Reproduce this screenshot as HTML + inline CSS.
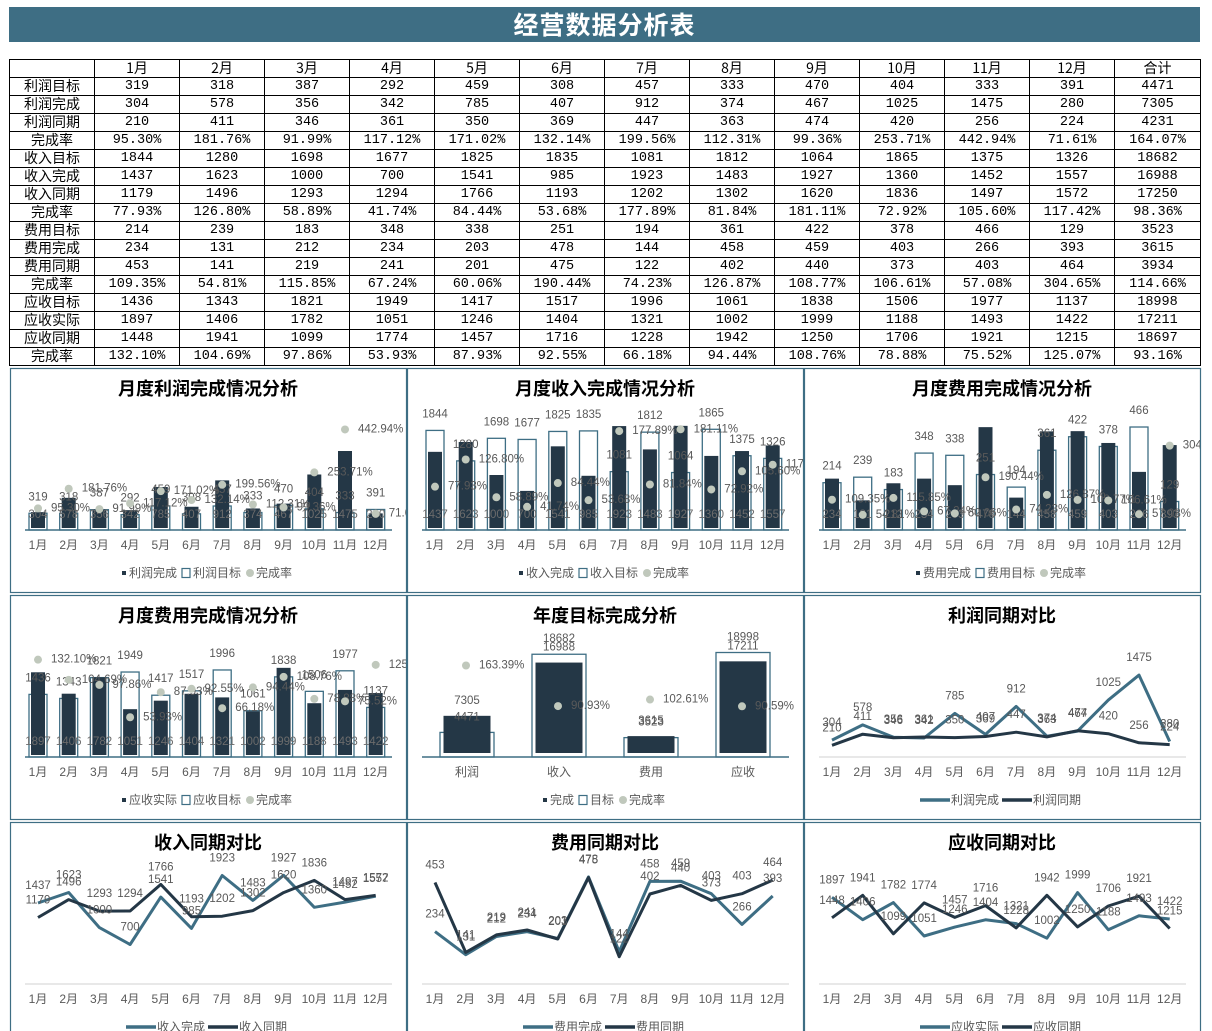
<!DOCTYPE html>
<html><head><meta charset="utf-8">
<style>
html,body{margin:0;padding:0;background:#fff;width:1212px;height:1031px;overflow:hidden;position:relative;font-family:"Liberation Sans","Noto Sans CJK SC",sans-serif}
#title{position:absolute;left:9px;top:7px;width:1191px;height:35px;background:#3e6e84;color:#fff;font:bold 25px "Noto Sans CJK SC",sans-serif;text-align:center;line-height:35px;letter-spacing:1px}
#tbl{position:absolute;left:9px;top:59px;border-collapse:collapse;table-layout:fixed}
#tbl td{border:1px solid #000;height:17px;padding:0;text-align:center;font:13.5px/17px "Liberation Mono","Noto Sans CJK SC",monospace;color:#000;white-space:nowrap;overflow:hidden}
#tbl td.h{font-family:"Noto Sans CJK SC",sans-serif;font-size:14px}
svg{position:absolute;left:0;top:0}
</style></head><body>
<div id="title">经营数据分析表</div>
<table id="tbl"></table>
<svg id="sv" width="1212" height="1031"></svg>
<script>
const months=["1月","2月","3月","4月","5月","6月","7月","8月","9月","10月","11月","12月"];
const profitTarget=[319,318,387,292,459,308,457,333,470,404,333,391];
const profitDone=[304,578,356,342,785,407,912,374,467,1025,1475,280];
const profitPrior=[210,411,346,361,350,369,447,363,474,420,256,224];
const profitRate=[95.30,181.76,91.99,117.12,171.02,132.14,199.56,112.31,99.36,253.71,442.94,71.61];
const revTarget=[1844,1280,1698,1677,1825,1835,1081,1812,1064,1865,1375,1326];
const revDone=[1437,1623,1000,700,1541,985,1923,1483,1927,1360,1452,1557];
const revPrior=[1179,1496,1293,1294,1766,1193,1202,1302,1620,1836,1497,1572];
const revRate=[77.93,126.80,58.89,41.74,84.44,53.68,177.89,81.84,181.11,72.92,105.60,117.42];
const costTarget=[214,239,183,348,338,251,194,361,422,378,466,129];
const costDone=[234,131,212,234,203,478,144,458,459,403,266,393];
const costPrior=[453,141,219,241,201,475,122,402,440,373,403,464];
const costRate=[109.35,54.81,115.85,67.24,60.06,190.44,74.23,126.87,108.77,106.61,57.08,304.65];
const arTarget=[1436,1343,1821,1949,1417,1517,1996,1061,1838,1506,1977,1137];
const arDone=[1897,1406,1782,1051,1246,1404,1321,1002,1999,1188,1493,1422];
const arPrior=[1448,1941,1099,1774,1457,1716,1228,1942,1250,1706,1921,1215];
const arRate=[132.10,104.69,97.86,53.93,87.93,92.55,66.18,94.44,108.76,78.88,75.52,125.07];
const totalRate=[164.07,98.36,114.66,93.16];
const annualCats=["利润","收入","费用","应收"];
const annualTarget=[4471,18682,3523,18998];
const annualDone=[7305,16988,3615,17211];
const annualRate=[163.39,90.93,102.61,90.59];

const sum=a=>a.reduce((s,v)=>s+v,0);
const tbl=document.getElementById('tbl');
const cg=document.createElement('colgroup');
for(let i=0;i<14;i++){const c=document.createElement('col');c.style.width=(i==13?86:85)+'px';cg.appendChild(c);}
tbl.appendChild(cg);
function addRow(label,vals,total){
  const tr=document.createElement('tr');
  
  
  const cells=[label].concat(vals).concat([total]);
  cells.forEach((v,i)=>{const td=document.createElement('td');td.textContent=v;if(i==0)td.className='h';
    
    
    tr.appendChild(td);});
  tbl.appendChild(tr);
}
const hdr=document.createElement('tr');


[""].concat(months).concat(["合计"]).forEach(t=>{const td=document.createElement('td');td.textContent=t;td.className='h';
  
  
  hdr.appendChild(td);});
tbl.appendChild(hdr);
const pct=a=>a.map(v=>v.toFixed(2)+'%');
const groups=[["利润",profitTarget,profitDone,profitPrior,profitRate],["收入",revTarget,revDone,revPrior,revRate],["费用",costTarget,costDone,costPrior,costRate],["应收",arTarget,arDone,arPrior,arRate]];
groups.forEach((g,gi)=>{
  const lbl2=g[0]=="应收"?"实际":"完成";
  addRow(g[0]+"目标",g[1],sum(g[1]));
  addRow(g[0]+lbl2,g[2],sum(g[2]));
  addRow(g[0]+"同期",g[3],sum(g[3]));
  addRow("完成率",pct(g[4]),totalRate[gi].toFixed(2)+'%');
});

const NS='http://www.w3.org/2000/svg';
const sv=document.getElementById('sv');
const defs=document.createElementNS(NS,'defs');sv.appendChild(defs);
const DARK='#243746',TEAL='#3e6e84',DOT='#c0c8bc',LBL='#595959';
const FS=11.5;
let clipN=0;
function mk(tag,attrs,parent){const e=document.createElementNS(NS,tag);for(const k in attrs)e.setAttribute(k,attrs[k]);(parent||sv).appendChild(e);return e;}
function txt(x,y,s,size,fill,anchor,weight,parent){const t=mk('text',{x:x,y:y,'font-size':size,fill:fill,'text-anchor':anchor||'middle','font-weight':weight||'normal','dominant-baseline':'central','font-family':'"Liberation Sans","Noto Sans CJK SC",sans-serif'},parent);t.textContent=s;return t;}
function panel(px,py,h,title){
  const id='clip'+(clipN++);
  const cp=mk('clipPath',{id:id},defs);
  mk('rect',{x:px+1,y:py+1,width:395,height:h-1},cp);
  const outer=mk('g',{});
  
  
  const r=mk('rect',{x:px+0.5,y:py+0.5,width:396,height:h,fill:'#fff',stroke:TEAL,'stroke-width':1.2},outer);
  
  
  const g=mk('g',{'clip-path':'url(#'+id+')'},outer);
  
  
  const t=txt(px+198,py+21,title,18,'#000','middle','bold',g);
  
  
  return g;
}
const cx=(px,i)=>px+28+i*30.7;
function axisAndMonths(g,px,base,color){
  const l=mk('line',{x1:px+15,x2:px+382,y1:base,y2:base,stroke:color,'stroke-width':color==TEAL?1.5:1.2},g);
  
  
  months.forEach((m,i)=>{const t=txt(cx(px,i),base+15,m,12,LBL,'middle','normal',g);
    
    });
}
function barLegend(g,px,ly,names){
  const widths=[6+2+names[0].length*12,10+2+names[1].length*12,10+2+names[2].length*12];
  const tot=widths[0]+widths[1]+widths[2]+8;
  let x=px+198-tot/2;
  const m1=mk('rect',{x:x,y:ly-2,width:4,height:4,fill:DARK},g);
  
  
  const t1=txt(x+7,ly,names[0],12,LBL,'start','normal',g);
  
  
  x+=widths[0]+4;
  const m2=mk('rect',{x:x,y:ly-4.5,width:8,height:9,fill:'#fff',stroke:TEAL,'stroke-width':1.2},g);
  
  
  const t2=txt(x+11,ly,names[1],12,LBL,'start','normal',g);
  
  
  x+=widths[1]+4;
  const m3=mk('circle',{cx:x+4,cy:ly,r:4,fill:DOT},g);
  
  
  const t3=txt(x+10,ly,names[2],12,LBL,'start','normal',g);
  
  
}
function lineLegend(g,px,ly,names){
  const w1=34+names[0].length*12, w2=34+names[1].length*12;
  let x=px+198-(w1+w2)/2;
  const l1=mk('line',{x1:x,x2:x+30,y1:ly,y2:ly,stroke:TEAL,'stroke-width':3.5},g);
  
  
  const t1=txt(x+31,ly,names[0],12,LBL,'start','normal',g);
  
  
  x+=w1;
  const l2=mk('line',{x1:x,x2:x+30,y1:ly,y2:ly,stroke:DARK,'stroke-width':3.5},g);
  
  
  const t2=txt(x+31,ly,names[1],12,LBL,'start','normal',g);
  
  
}
function monthlyBar(px,py,title,tgt,done,rate,kT,kD,kR,names){
  const g=panel(px,py,224,title);
  const base=py+162;
  tgt.forEach((v,i)=>{
    const x=cx(px,i);const h=v*kT;
    const r=mk('rect',{x:x-9,y:base-h,width:18,height:h,fill:'none',stroke:TEAL,'stroke-width':1.3},g);
    
    
  });
  done.forEach((v,i)=>{
    const x=cx(px,i);const h=v*kD;
    const r=mk('rect',{x:x-7,y:base-2-h,width:14,height:h,fill:DARK},g);
    
    
  });
  tgt.forEach((v,i)=>{
    const t=txt(cx(px,i),base-v*kT-16,String(v),FS,LBL,'middle','normal',g);
    
    
  });
  done.forEach((v,i)=>{
    const t=txt(cx(px,i),base-15,String(v),FS,'#6b6b6b','middle','normal',g);
    
    
  });
  rate.forEach((v,i)=>{
    const x=cx(px,i),y=base-v*kR;
    const c=mk('circle',{cx:x,cy:y,r:4,fill:DOT},g);
    
    
    const t=txt(x+13,y,v.toFixed(2)+'%',FS,LBL,'start','normal',g);
    
    
  });
  axisAndMonths(g,px,base,TEAL);
  barLegend(g,px,py+205,names);
}
function lineChart(px,py,h,title,cur,prior,k,names){
  const g=panel(px,py,h,title);
  const base=py+162;
  axisAndMonths(g,px,base,'#d9d9d9');
  [[cur,TEAL,'current-line'],[prior,DARK,'prior-line']].forEach(s=>{
    const pts=s[0].map((v,i)=>cx(px,i)+','+(base-v*k).toFixed(1)).join(' ');
    const pl=mk('polyline',{points:pts,fill:'none',stroke:s[1],'stroke-width':3,'stroke-linejoin':'round'},g);
    
    
  });
  [cur,prior].forEach(a=>a.forEach((v,i)=>{
    const t=txt(cx(px,i),base-v*k-17,String(v),FS,LBL,'middle','normal',g);
    
    
  }));
  lineLegend(g,px,py+205,names);
}
monthlyBar(10,368,"月度利润完成情况分析",profitTarget,profitDone,profitRate,0.0525,0.0522,0.227,["利润完成","利润目标","完成率"]);
monthlyBar(407,368,"月度收入完成情况分析",revTarget,revDone,revRate,0.054,0.053,0.556,["收入完成","收入目标","完成率"]);
monthlyBar(804,368,"月度费用完成情况分析",costTarget,costDone,costRate,0.221,0.211,0.277,["费用完成","费用目标","完成率"]);
monthlyBar(10,595,"月度费用完成情况分析",arTarget,arDone,arRate,0.0436,0.0436,0.737,["应收实际","应收目标","完成率"]);

(function(){
  const px=407,py=595;const g=panel(px,py,224,"年度目标完成分析");const base=py+162;
  const ax=i=>px+60+i*92;
  const kA=0.0055,kR=0.56;
  annualTarget.forEach((v,i)=>{
    const r=mk('rect',{x:ax(i)-27,y:base-v*kA,width:54,height:v*kA,fill:'none',stroke:TEAL,'stroke-width':1.3},g);
    
    
  });
  annualDone.forEach((v,i)=>{
    const h=v*kA-3;
    const r=mk('rect',{x:ax(i)-23.5,y:base-4-h,width:47,height:h,fill:DARK},g);
    
    
  });
  annualTarget.forEach((v,i)=>{
    const t=txt(ax(i),base-v*kA-15,String(v),FS,LBL,'middle','normal',g);
    
    
  });
  annualDone.forEach((v,i)=>{
    const t=txt(ax(i),base-v*kA-16,String(v),FS,LBL,'middle','normal',g);
    
    
  });
  annualRate.forEach((v,i)=>{
    const x=ax(i)-1,y=base-v*kR;
    const c=mk('circle',{cx:x,cy:y,r:4,fill:DOT},g);
    
    
    const t=txt(x+13,y,v.toFixed(2)+'%',FS,LBL,'start','normal',g);
    
    
  });
  const l=mk('line',{x1:px+15,x2:px+382,y1:base,y2:base,stroke:TEAL,'stroke-width':1.5},g);
  
  
  annualCats.forEach((c,i)=>{const t=txt(ax(i),base+15,c,12,LBL,'middle','normal',g);
    
    });
  barLegend(g,px,py+205,["完成","目标","完成率"]);
})();

lineChart(804,595,224,"利润同期对比",profitDone,profitPrior,0.0555,["利润完成","利润同期"]);
lineChart(10,822,215,"收入同期对比",revDone,revPrior,0.0564,["收入完成","收入同期"]);
lineChart(407,822,215,"费用同期对比",costDone,costPrior,0.224,["费用完成","费用同期"]);
lineChart(804,822,215,"应收同期对比",arDone,arPrior,0.0457,["应收实际","应收同期"]);
</script>
</body></html>
